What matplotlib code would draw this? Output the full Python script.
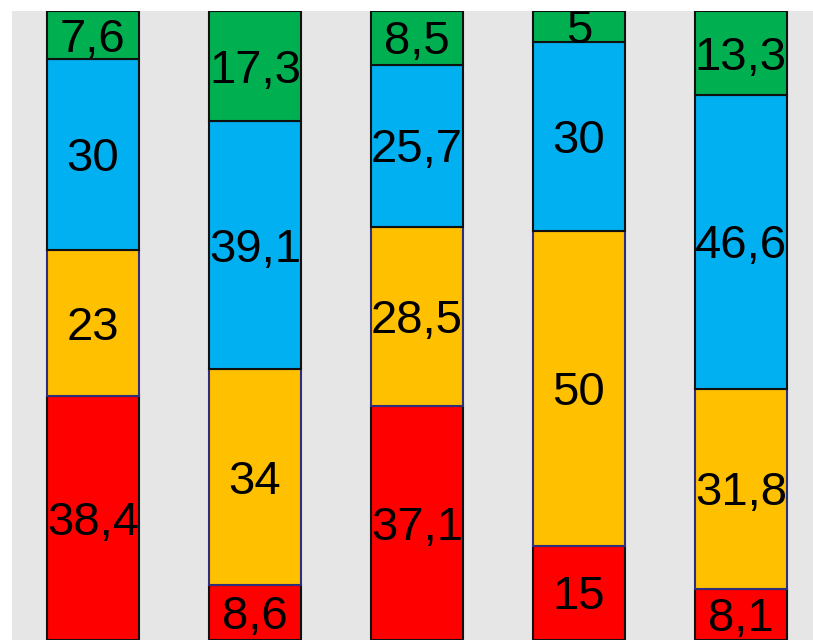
import matplotlib
matplotlib.use("Agg")
import matplotlib.pyplot as plt
import numpy as np

plt.rcParams['font.family'] = ['Liberation Sans', 'DejaVu Sans']

# stacked segments, bottom to top (shown as 100% stacked)
red = [38.4, 8.6, 37.1, 15, 8.1]
yellow = [23, 34, 28.5, 50, 31.8]
blue = [30, 39.1, 25.7, 30, 46.6]
green = [7.6, 17.3, 8.5, 5, 13.3]
series = [red, yellow, blue, green]
colors = ['#FF0000', '#FFC000', '#00B0F0', '#00B050']
edges = ['#101010', '#2E2E7A', '#101010', '#101010']

totals = np.sum(np.array(series, dtype=float), axis=0)

fig = plt.figure(figsize=(8.13, 6.40), dpi=100)
ax = fig.add_axes([12 / 813, 0, 801 / 813, 629 / 640])
ax.set_facecolor('#E6E6E6')

x = np.arange(len(red))
bottom = np.zeros(len(red))
for vals, c, ec in zip(series, colors, edges):
    vals = np.array(vals, dtype=float)
    pct = vals / totals * 100
    ax.bar(x, pct, bottom=bottom, width=0.57, color=c, edgecolor=ec, linewidth=1.5)
    for xi, b, p, v in zip(x, bottom, pct, vals):
        lab = ('%g' % v).replace('.', ',')
        ax.annotate(lab, (xi, b + p / 2), xytext=(0, -12), textcoords='offset points',
                    ha='center', va='baseline', fontsize=34, color='black')
    bottom += pct

ax.set_xlim(-0.5, 4.445)
ax.set_ylim(0, 100)
for s in ax.spines.values():
    s.set_visible(False)
ax.set_xticks([])
ax.set_yticks([])

fig.savefig('out.png', dpi=100)
